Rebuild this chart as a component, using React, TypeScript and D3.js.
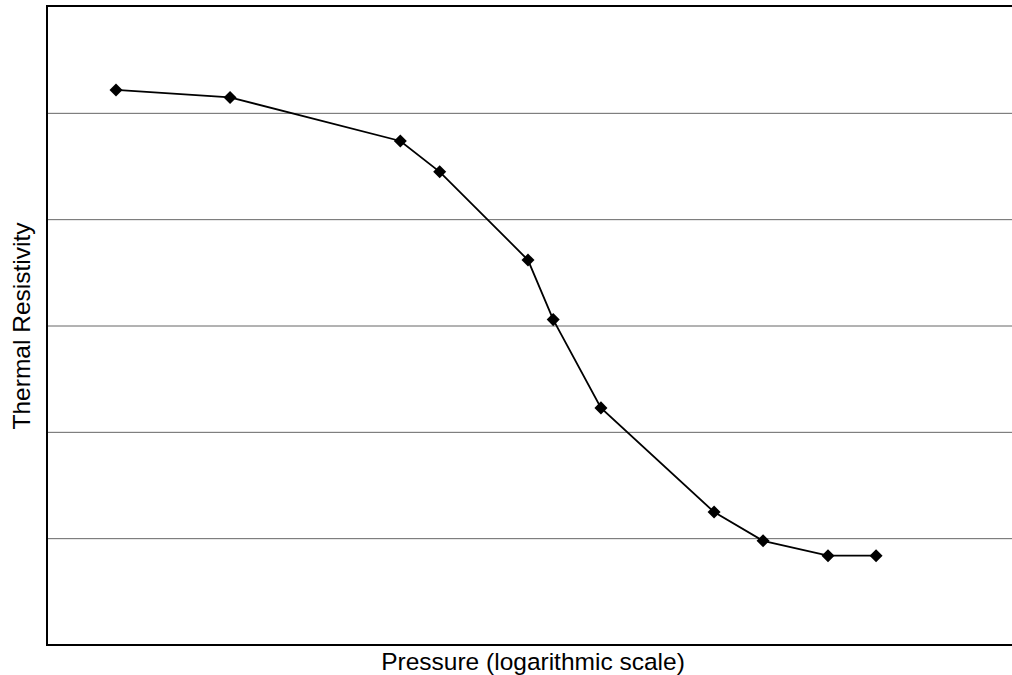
import { useEffect, useRef } from 'react';
import * as d3 from 'd3';

// pressure on a log scale (arbitrary units, no tick labels in the original)
const pressure = [1.65, 3.73, 12.6, 16.7, 31.4, 37.6, 52.9, 118.8, 168.6, 268.3, 378.3];
const resistivity = [5.22, 5.15, 4.74, 4.45, 3.62, 3.06, 2.23, 1.25, 0.98, 0.84, 0.84];
const gridValues = [1, 2, 3, 4, 5];
const xTitle = 'Pressure (logarithmic scale)';
const yTitle = 'Thermal Resistivity';

const App = () => {
  const svgRef = useRef<SVGSVGElement>(null!);
  const width = 1012;
  const height = 675;
  const left = 47;
  const right = 1012;
  const top = 6;
  const bottom = 645;

  useEffect(() => {
    const svg = d3.select(svgRef.current);
    svg.selectAll('*').remove();

    const x = d3.scaleLog().domain([1, 1000]).range([left - 1, right]);
    const y = d3.scaleLinear().domain([0, 6]).range([bottom, top + 1]);

    // gridlines
    svg
      .append('g')
      .selectAll('line')
      .data(gridValues)
      .enter()
      .append('line')
      .attr('x1', left)
      .attr('x2', right)
      .attr('y1', d => y(d))
      .attr('y2', d => y(d))
      .attr('stroke', '#666')
      .attr('stroke-width', 1);

    // frame: top, left, bottom
    svg
      .append('path')
      .attr('d', `M${right},${top}H${left}V${bottom}H${right}`)
      .attr('fill', 'none')
      .attr('stroke', '#000')
      .attr('stroke-width', 2);

    const points = pressure.map((p, i) => [x(p), y(resistivity[i])] as [number, number]);

    svg
      .append('path')
      .datum(points)
      .attr('d', d3.line())
      .attr('fill', 'none')
      .attr('stroke', '#000')
      .attr('stroke-width', 1.8);

    svg
      .append('g')
      .selectAll('path')
      .data(points)
      .enter()
      .append('path')
      .attr('transform', d => `translate(${d[0]},${d[1]}) rotate(45)`)
      .attr('d', 'M-4.6,-4.6H4.6V4.6H-4.6Z')
      .attr('fill', '#000');

    svg
      .append('text')
      .attr('x', 533)
      .attr('y', 670)
      .attr('text-anchor', 'middle')
      .attr('font-family', '"Liberation Sans", Arial, sans-serif')
      .attr('font-size', 24.5)
      .text(xTitle);

    svg
      .append('text')
      .attr('transform', `translate(30,326) rotate(-90)`)
      .attr('text-anchor', 'middle')
      .attr('font-family', '"Liberation Sans", Arial, sans-serif')
      .attr('font-size', 24.5)
      .text(yTitle);
  }, []);

  return (
    <svg
      ref={svgRef}
      width={width}
      height={height}
      style={{ position: 'absolute', left: 0, top: 0, background: '#fff' }}
    ></svg>
  );
};

export default App;
